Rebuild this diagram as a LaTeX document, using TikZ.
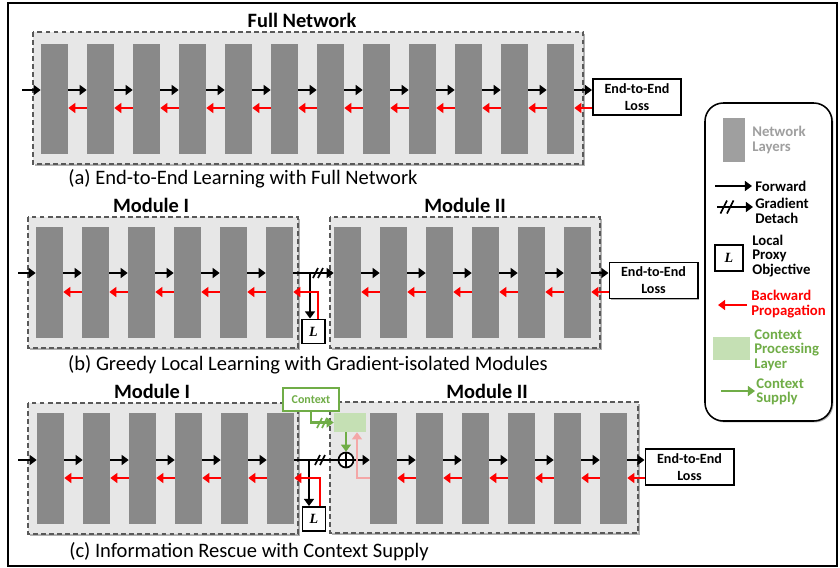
\documentclass[tikz,border=0pt]{standalone}
\usepackage{fontspec}
\setmainfont{Carlito}
\newfontfamily\lfont{Liberation Serif}
\usetikzlibrary{arrows.meta,shadows}
\definecolor{layergray}{HTML}{898989}
\definecolor{boxgray}{HTML}{E7E7E7}
\definecolor{dashgray}{HTML}{595959}
\definecolor{ctxgreen}{HTML}{70AD47}
\definecolor{ctxlight}{HTML}{C5E0B4}
\definecolor{bwdpink}{HTML}{F4A7A7}
\tikzset{detach/.pic={\draw[line width=1.2pt] (-5,5) -- (0,-5) (0,5) -- (5,-5);}}

\begin{document}
\begin{tikzpicture}[x=0.025cm,y=-0.025cm]
    \tikzstyle{netlayer}=[fill=layergray,inner sep=0pt,minimum width=0.675cm,minimum height=2.75cm]
    \tikzstyle{module}=[fill=boxgray,draw=dashgray,line width=1.3pt,dash pattern=on 3.5pt off 2.2pt,drop shadow={shadow xshift=1.2pt,shadow yshift=-1.2pt,opacity=0.3,fill=black}]
    \tikzstyle{loss}=[draw,fill=white,line width=1.4pt,align=center,font=\bfseries\fontsize{10}{12}\selectfont,minimum width=2.2cm,minimum height=0.9cm,inner sep=1pt,drop shadow={shadow xshift=1pt,shadow yshift=-1pt,opacity=0.3,fill=black}]
    \tikzstyle{lbox}=[draw,fill=white,line width=1.4pt,minimum width=0.575cm,minimum height=0.6cm,inner sep=0pt,font=\lfont\bfseries\itshape]
    \tikzstyle{fwd}=[line width=1.6pt,-{Triangle[length=5pt,width=7pt]}]
    \tikzstyle{bwd}=[fwd,red]
    \tikzstyle{supply}=[fwd,ctxgreen]
    \tikzstyle{modtitle}=[font=\bfseries\fontsize{14.5}{16}\selectfont]
    \tikzstyle{subcap}=[font=\fontsize{14.6}{16}\selectfont]
    \tikzstyle{legtext}=[anchor=west,align=left,inner sep=0pt,font=\bfseries\fontsize{10.5}{10.2}\selectfont]

    \useasboundingbox (0,0) rectangle (840,567);
    \draw[line width=1.1pt] (8,3) rectangle (837,566);

    \begin{scope}
    \node[modtitle] (titlea) at (302,20) {Full Network};
    \draw[module] (33,32) rectangle (583,164);
    \coordinate (fa) at (0,90);
    \coordinate (ba) at (0,108);
    \foreach \i in {1,...,12} \node[netlayer] (a\i) at ({54.5+46*(\i-1)},99) {};
    \coordinate (ina) at (22,90);
    \draw[fwd] (ina) -- (a1.west |- fa);
    \foreach \i [count=\j from 2] in {1,...,11} {
        \draw[fwd] (a\i.east |- fa) -- (a\j.west |- fa);
        \draw[bwd] (a\j.west |- ba) -- (a\i.east |- ba);
    }
    \node[loss] (lossa) at (637,97) {End-to-End\\Loss};
    \draw[fwd] (a12.east |- fa) -- (lossa.west |- fa);
    \draw[bwd] (lossa.west |- ba) -- (a12.east |- ba);
    \node[subcap] (capa) at (243,179) {(a) End-to-End Learning with Full Network};
    \end{scope}

    \begin{scope}
    \draw[module] (28,217) rectangle (298,348);
    \draw[module] (330,217) rectangle (600,348);
    \node[modtitle] (titleb1) at (151,205) {Module I};
    \node[modtitle] (titleb2) at (465,205) {Module II};
    \coordinate (fb) at (0,273);
    \coordinate (bb) at (0,292);
    \foreach \i in {1,...,6} {
        \node[netlayer] (bA\i) at ({49.5+46*(\i-1)},282.5) {};
        \node[netlayer] (bB\i) at ({347.5+46*(\i-1)},282.5) {};
    }
    \coordinate (inb) at (18,273);
    \draw[fwd] (inb) -- (bA1.west |- fb);
    \foreach \i [count=\j from 2] in {1,...,5} {
        \draw[fwd] (bA\i.east |- fb) -- (bA\j.west |- fb);
        \draw[bwd] (bA\j.west |- bb) -- (bA\i.east |- bb);
        \draw[fwd] (bB\i.east |- fb) -- (bB\j.west |- fb);
        \draw[bwd] (bB\j.west |- bb) -- (bB\i.east |- bb);
    }
    \draw[fwd] (bA6.east |- fb) -- (bB1.west |- fb);
    \pic at (318,273) {detach};
    \node[lbox] (lb) at (313.5,331.5) {L};
    \coordinate (brb) at (310,273);
    \draw[fwd] (brb) -- (brb |- lb.north);
    \coordinate (rb) at (318,0);
    \draw[bwd] (rb |- lb.north) |- (bA6.east |- bb);
    \node[loss] (lossb) at (653.5,280.5) {End-to-End\\Loss};
    \draw[fwd] (bB6.east |- fb) -- (lossb.west |- fb);
    \draw[bwd] (lossb.west |- bb) -- (bB6.east |- bb);
    \node[subcap] (capb) at (308,365) {(b) Greedy Local Learning with Gradient-isolated Modules};
    \end{scope}

    \begin{scope}
    \draw[module] (28,403) rectangle (298,534);
    \draw[module] (330,402) rectangle (638,533);
    \node[modtitle] (titlec1) at (152,391) {Module I};
    \node[modtitle] (titlec2) at (487,391) {Module II};
    \coordinate (fc) at (0,460);
    \coordinate (bc) at (0,478);
    \foreach \i in {1,...,6} {
        \node[netlayer] (cA\i) at ({50.5+46*(\i-1)},468.5) {};
        \node[netlayer] (cB\i) at ({383.5+46*(\i-1)},468.5) {};
    }
    \coordinate (inc) at (18,460);
    \draw[fwd] (inc) -- (cA1.west |- fc);
    \foreach \i [count=\j from 2] in {1,...,5} {
        \draw[fwd] (cA\i.east |- fc) -- (cA\j.west |- fc);
        \draw[bwd] (cA\j.west |- bc) -- (cA\i.east |- bc);
        \draw[fwd] (cB\i.east |- fc) -- (cB\j.west |- fc);
        \draw[bwd] (cB\j.west |- bc) -- (cB\i.east |- bc);
    }
    \node[fill=ctxlight,inner sep=0pt,minimum width=0.8cm,minimum height=0.475cm] (ctxl) at (350,422.5) {};
    \node[draw=ctxgreen,fill=white,line width=1.4pt,text=ctxgreen,font=\bfseries\fontsize{8.5}{9}\selectfont,minimum width=1.4cm,minimum height=0.575cm,inner sep=0pt,drop shadow={shadow xshift=1pt,shadow yshift=-1pt,opacity=0.3,fill=black}] (ctx) at (311,399.5) {Context};
    \node[circle,draw,fill=white,line width=1.2pt,minimum size=0.375cm,inner sep=0pt,path picture={\draw[line width=1.2pt] (path picture bounding box.north) -- (path picture bounding box.south) (path picture bounding box.west) -- (path picture bounding box.east);}] (plus) at (346,460) {};
    \draw[line width=1.6pt] (cA6.east |- fc) -- (plus.west);
    \pic at (320,460) {detach};
    \draw[fwd] (plus.east) -- (cB1.west |- fc);
    \draw[supply] (ctx.south) |- (ctxl.west);
    \pic[ctxgreen] at (322,423) {detach};
    \draw[supply] (ctxl.south -| plus) -- (plus.north);
    \coordinate (pk) at (357,0);
    \draw[fwd,bwdpink] (cB1.west |- bc) -| (pk |- ctxl.south);
    \node[lbox] (lc) at (314,519) {L};
    \coordinate (brc) at (309,460);
    \draw[fwd] (brc) -- (brc |- lc.north);
    \coordinate (rc) at (320,0);
    \draw[bwd] (rc |- lc.north) |- (cA6.east |- bc);
    \node[loss] (lossc) at (689.5,467) {End-to-End\\Loss};
    \draw[fwd] (cB6.east |- fc) -- (lossc.west |- fc);
    \draw[bwd] (lossc.west |- bc) -- (cB6.east |- bc);
    \node[subcap] (capc) at (249,552) {(c) Information Rescue with Context Supply};
    \end{scope}

    \begin{scope}
    \draw[line width=1.1pt,fill=white,rounded corners=13pt,drop shadow={shadow xshift=1pt,shadow yshift=-1pt,opacity=0.3,fill=black}] (705,103) rectangle (832,421);
    \node[fill=gray!75,inner sep=0pt,minimum width=0.55cm,minimum height=1.1cm] (lgl) at (734,140) {};
    \node[legtext,text=gray!75] (lglt) at (752,140) {Network\\Layers};
    \coordinate (lgf1) at (715,186);
    \coordinate (lgf2) at (752,186);
    \draw[fwd] (lgf1) -- (lgf2);
    \node[legtext] (lgft) at (755,186) {Forward};
    \coordinate (lgd1) at (717,207);
    \coordinate (lgd2) at (753,207);
    \draw[fwd] (lgd1) -- (lgd2);
    \pic[scale=1.3] at (727,207) {detach};
    \node[legtext] (lgdt) at (755,211) {Gradient\\Detach};
    \node[lbox,minimum width=0.7cm,minimum height=0.65cm] (lgL) at (729,258) {L};
    \node[legtext] (lgLt) at (752,256) {Local\\Proxy\\Objective};
    \coordinate (lgb1) at (747,305);
    \coordinate (lgb2) at (718,305);
    \draw[bwd] (lgb1) -- (lgb2);
    \node[legtext,text=red] (lgbt) at (751,304) {Backward\\Propagation};
    \node[fill=ctxlight,inner sep=0pt,minimum width=0.925cm,minimum height=0.575cm] (lgc) at (731.5,348.5) {};
    \node[legtext,text=ctxgreen] (lgct) at (754,350) {Context\\Processing\\Layer};
    \coordinate (lgs1) at (721,391);
    \coordinate (lgs2) at (755,391);
    \draw[supply] (lgs1) -- (lgs2);
    \node[legtext,text=ctxgreen] (lgst) at (756,392) {Context\\Supply};
    \end{scope}
\end{tikzpicture}
\end{document}
